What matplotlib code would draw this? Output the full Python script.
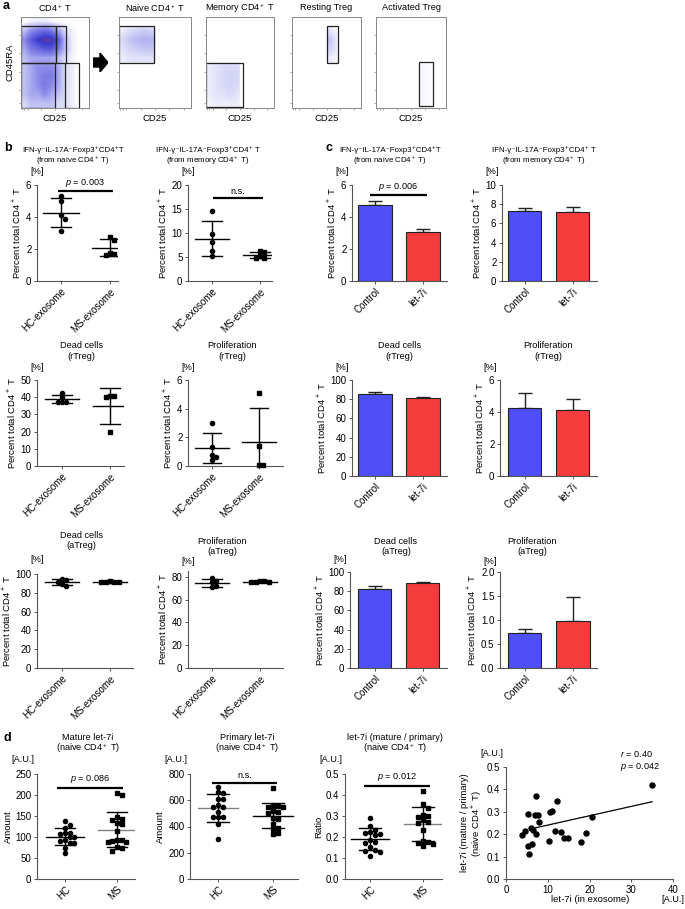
import numpy as np
import matplotlib
matplotlib.use('Agg')
import matplotlib.pyplot as plt
from matplotlib.colors import LinearSegmentedColormap
from matplotlib.patches import Rectangle, Polygon

plt.rcParams['font.family'] = ['Liberation Sans', 'DejaVu Sans']
plt.rcParams['mathtext.fontset'] = 'custom'
plt.rcParams['mathtext.rm'] = 'Liberation Sans'
plt.rcParams['mathtext.it'] = 'Liberation Sans:italic'
plt.rcParams['mathtext.bf'] = 'Liberation Sans:bold'
plt.rcParams['font.size'] = 6.5

# ---------------- data ----------------
# a: CD4+ T event density, rows bottom -> top, columns left -> right
cd4_density = np.array([
    [1, 2, 2, 2, 2, 1, 1, 0.5, 0, 0],
    [2, 3, 3, 4, 3, 2, 1, 0.5, 0, 0],
    [2, 3, 4, 5, 4, 3, 1, 0.5, 0, 0],
    [2, 3, 4, 5, 5, 3, 1, 0.5, 0, 0],
    [2, 3, 4, 4, 4, 3, 1, 0.5, 0, 0],
    [2, 3, 3, 3, 3, 2, 1, 0.3, 0, 0],
    [3, 5, 6, 7, 7, 5, 2, 0.5, 0, 0],
    [4, 7, 9, 10, 10, 7, 2, 0.5, 0, 0],
    [2, 4, 5, 6, 5, 3, 1, 0.3, 0, 0],
    [0, 0.3, 0.5, 0.5, 0.3, 0, 0, 0, 0, 0],
])
flow_titles = ['CD4$^+$ T', 'Naive CD4$^+$ T', 'Memory CD4$^+$ T', 'Resting Treg', 'Activated Treg']

# b: exosome co-culture, individual values
exo_labels = ['HC-exosome', 'MS-exosome']
b_naive_hc = [5.3, 5.0, 4.1, 3.85, 3.1]
b_naive_ms = [2.75, 2.55, 1.7, 1.65, 1.75]
b_memory_hc = [14.6, 9.8, 8.2, 6.3, 5.2]
b_memory_ms = [6.2, 6.1, 5.3, 4.8, 4.7]
b_dead_r_hc = [42.5, 40.0, 37.5, 37.3, 37.3]
b_dead_r_ms = [40.5, 40.0, 40.5, 19.5]
b_prolif_r_hc = [3.0, 1.35, 0.75, 0.6, 0.45]
b_prolif_r_ms = [5.1, 1.4, 0.05, 0.05]
b_dead_a_hc = [95, 93.5, 92, 89, 87]
b_dead_a_ms = [91, 91, 91.5, 92, 93]
b_prolif_a_hc = [79, 76, 75, 72, 71]
b_prolif_a_ms = [76.5, 76, 75.5, 75, 75.5]

# c: let-7i transfection, mean and SEM
mir_labels = ['Control', 'let-7i']
c_naive_mean, c_naive_sem = [4.78, 3.07], [0.24, 0.15]
c_memory_mean, c_memory_sem = [7.32, 7.14], [0.28, 0.59]
c_dead_r_mean, c_dead_r_sem = [85.0, 81.2], [2.4, 1.4]
c_prolif_r_mean, c_prolif_r_sem = [4.26, 4.15], [0.94, 0.68]
c_dead_a_mean, c_dead_a_sem = [82.5, 88.5], [2.4, 1.6]
c_prolif_a_mean, c_prolif_a_sem = [0.73, 0.98], [0.08, 0.50]

# d: let-7i in naive CD4+ T cells
pt_labels = ['HC', 'MS']
d_mature_hc = [138, 128.6, 120.6, 110.3, 107, 108.7, 99, 99, 92.9, 91.3, 86.5, 86.5, 74.6, 62.7]
d_mature_ms = [204, 200, 147, 144, 141, 133, 131, 114, 94, 92, 90, 88, 87, 76, 74, 67]
d_primary_hc = [703, 665, 653, 607, 607, 564, 551, 551, 513, 470, 470, 470, 417, 302]
d_primary_ms = [695, 560, 555, 550, 545, 520, 510, 500, 465, 455, 420, 390, 380, 350, 340]
d_ratio_hc = [0.289, 0.254, 0.233, 0.225, 0.22, 0.214, 0.21, 0.186, 0.178, 0.173, 0.151, 0.14, 0.135, 0.13, 0.111]
d_ratio_ms = [0.42, 0.356, 0.34, 0.305, 0.30, 0.297, 0.281, 0.273, 0.265, 0.233, 0.182, 0.178, 0.173, 0.165, 0.157]
exo_let7i = [35.0, 7.1, 12.3, 5.3, 7.0, 7.7, 10.5, 11.1, 7.9, 20.5, 3.9, 4.6, 6.0, 6.5,
             7.2, 11.7, 13.1, 13.8, 14.9, 10.2, 18.0, 19.1, 5.3, 6.2, 5.5]
cell_ratio = [0.42, 0.37, 0.35, 0.29, 0.285, 0.285, 0.298, 0.303, 0.256, 0.275, 0.195, 0.214, 0.226, 0.219,
              0.202, 0.216, 0.208, 0.182, 0.184, 0.171, 0.167, 0.205, 0.149, 0.158, 0.113]
fit_x = [6.5, 35.0]
fit_y = [0.226, 0.345]

# ---------------- helpers ----------------
W, H = 685, 909
fig = plt.figure(figsize=(W / 100, H / 100), dpi=100)
AXC = '#555555'
BLUE = '#4f4ff7'
RED = '#f53c3c'
TICK = 7
LAB = 6.8
TXT = 6.6


def fx(x):
    return x / W


def fy(y):
    return 1 - y / H


def make_axes(left, right, top, bottom):
    return fig.add_axes([left / W, 1 - bottom / H, (right - left) / W, (bottom - top) / H])


def style(ax):
    for s in ['top', 'right']:
        ax.spines[s].set_visible(False)
    for s in ['left', 'bottom']:
        ax.spines[s].set_color(AXC)
        ax.spines[s].set_linewidth(0.8)
    ax.tick_params(length=2.5, width=0.7, color=AXC, labelsize=TICK, pad=1.5)


def swarm(values, yrange, dx=0.09, thr=0.045):
    vals = np.asarray(values, float)
    offs = np.zeros(len(vals))
    placed = []
    for i in np.argsort(vals)[::-1]:
        v = vals[i]
        o = 0
        for k in [0, 1, -1, 2, -2, 3, -3]:
            o = k * dx
            if all(abs(o - po) >= dx * 0.9 or abs(v - pv) >= thr * yrange for po, pv in placed):
                break
        offs[i] = o
        placed.append((o, v))
    return offs


def titles(cx, y1, lines, size=TXT, gap=10.5):
    # one fig.text per line keeps the spacing even with superscripts
    for k, line in enumerate(lines):
        fig.text(fx(cx), fy(y1 + k * gap), line, ha='center', va='center', fontsize=size)


def unit(ax_left, y, text, ha='center'):
    x = ax_left if ha == 'center' else ax_left - 3
    fig.text(fx(x), fy(y), text, ha=ha, va='center', fontsize=TXT)


def sig_bar(ax, x0, x1, y, text, dy):
    ax.plot([x0, x1], [y, y], color='k', lw=1.6, solid_capstyle='butt', clip_on=False)
    ax.text((x0 + x1) / 2, y + dy, text, ha='center', va='bottom', fontsize=TXT)


def geometry(ax, left, right, cats):
    s = cats[1] - cats[0]
    ax.set_xlim((left - cats[0]) / s, 1 + (right - cats[1]) / s)


def dot_panel(left, right, cats, top, bottom, groups, labels, ylim, yticks, ylabel,
              mean_colors=('k', 'k'), yfmt=None):
    ax = make_axes(left, right, top, bottom)
    style(ax)
    geometry(ax, left, right, cats)
    ax.set_ylim(*ylim)
    yr = ylim[1] - ylim[0]
    for xi, (vals, mk, mc) in enumerate(zip(groups, ['o', 's'], mean_colors)):
        offs = swarm(vals, yr)
        ax.plot(xi + offs, vals, mk, color='k', ms=3.0 if mk == 'o' else 2.7, clip_on=False, zorder=3)
        m, sd = np.mean(vals), np.std(vals, ddof=1)
        ax.plot([xi - 0.36, xi + 0.36], [m, m], color=mc, lw=1.0, zorder=2)
        for yv in [m - sd, m + sd]:
            ax.plot([xi - 0.2, xi + 0.2], [yv, yv], color='k', lw=1.0, zorder=2)
        ax.plot([xi, xi], [m - sd, m + sd], color='k', lw=1.0, zorder=2)
    ax.set_xticks([0, 1])
    ax.set_xticklabels(labels, rotation=45, ha='right', rotation_mode='anchor')
    ax.set_yticks(yticks)
    if yfmt:
        ax.set_yticklabels([yfmt.format(t) for t in yticks])
    ax.set_ylabel(ylabel, fontsize=LAB, labelpad=2)
    return ax


def bar_panel(left, right, cats, top, bottom, means, sems, ylim, yticks, ylabel, yfmt=None):
    ax = make_axes(left, right, top, bottom)
    style(ax)
    geometry(ax, left, right, cats)
    ax.set_ylim(*ylim)
    ax.bar([0, 1], means, width=0.69, color=[BLUE, RED], edgecolor='#222222', linewidth=0.8, zorder=2)
    ax.errorbar([0, 1], means, yerr=[[0, 0], sems], fmt='none', ecolor='#222222',
                elinewidth=1.0, capsize=5, capthick=1.0, zorder=1)
    ax.set_xticks([0, 1])
    ax.set_xticklabels(mir_labels, rotation=45, ha='right', rotation_mode='anchor')
    ax.set_yticks(yticks)
    if yfmt:
        ax.set_yticklabels([yfmt.format(t) for t in yticks])
    ax.set_ylabel(ylabel, fontsize=LAB, labelpad=2)
    return ax


PCT = 'Percent total CD4$^+$ T'
IFN = 'IFN-γ⁻IL-17A⁻Foxp3⁺CD4⁺T'
IFN2 = 'IFN-γ⁻IL-17A⁻Foxp3⁺CD4⁺ T'
IFN_SIZE = 5.7

# ---------------- panel a: flow plots ----------------
cmap = LinearSegmentedColormap.from_list(
    'flow', [(0, 'white'), (0.08, '#dcdcf8'), (0.35, '#8a8aea'), (0.75, '#3a3ad0'), (1.0, '#a04848')])


def upsample(grid, n=140):
    rows, cols = grid.shape
    xs = (np.arange(cols) + 0.5) / cols
    ys = (np.arange(rows) + 0.5) / rows
    t = (np.arange(n) + 0.5) / n
    tmp = np.array([np.interp(t, xs, r) for r in grid])
    return np.array([np.interp(t, ys, tmp[:, j]) for j in range(n)]).T, t


dens, tt = upsample(cd4_density)
XX, YY = np.meshgrid(tt, tt)

flow_lr = [(21, 89), (119, 191), (206, 274), (292, 361), (376, 446)]
gates_all = [(0, 0.50, 0.51, 0.90), (0.51, 0.50, 0.66, 0.90), (0, 0, 0.50, 0.50), (0.65, 0.0, 0.85, 0.49)]
gates_sub = [(0, 0.50, 0.48, 0.90), (0, 0.01, 0.54, 0.49), (0.50, 0.50, 0.66, 0.90), (0.62, 0.02, 0.82, 0.50)]
src_gate = [gates_all[0], gates_all[2], gates_all[1], gates_all[3]]

for i, (l, r) in enumerate(flow_lr):
    ax = make_axes(l, r, 17, 108)
    if i == 0:
        img = dens * 0.85
        gates = gates_all
    else:
        g = src_gate[i - 1]
        mask = (XX >= g[0]) & (XX <= g[2]) & (YY >= g[1]) & (YY <= g[3])
        img = np.where(mask, dens * 0.22, 0)
        gates = [gates_sub[i - 1]]
    ax.imshow(img, extent=(0, 1, 0, 1), origin='lower', cmap=cmap, vmin=0, vmax=10,
              interpolation='bilinear', aspect='auto')
    for (x0, y0, x1, y1) in gates:
        ax.add_patch(Rectangle((x0, y0), x1 - x0, y1 - y0, fill=False, ec='#222222', lw=0.9))
    ax.set_xlim(0, 1)
    ax.set_ylim(0, 1)
    ax.set_xticks([0.02, 0.05, 0.1, 0.3, 0.5, 0.7, 0.9])
    ax.set_yticks([0.05, 0.2, 0.4, 0.6, 0.8])
    ax.tick_params(length=1.5, width=0.5, color='#888888', labelleft=False, labelbottom=False)
    for s in ax.spines.values():
        s.set_color('#888888')
        s.set_linewidth(0.7)
    ax.set_xlabel('CD25', fontsize=LAB, labelpad=3)
    fig.text(fx((l + r) / 2), fy(8), flow_titles[i], ha='center', va='center', fontsize=TXT)
    if i == 0:
        ax.set_ylabel('CD45RA', fontsize=LAB, labelpad=3)

arr = fig.add_axes([93 / W, 1 - 72 / H, 15 / W, 19 / H])
arr.add_patch(Polygon([(0, 5), (7, 5), (7, 0), (15, 9.5), (7, 19), (7, 14), (0, 14)], closed=True, color='k'))
arr.set_xlim(0, 15)
arr.set_ylim(0, 19)
arr.axis('off')

# ---------------- panel b ----------------
ax = dot_panel(37, 118, (61, 110), 185, 281, [b_naive_hc, b_naive_ms], exo_labels, (0, 6), [0, 2, 4, 6], PCT)
sig_bar(ax, -0.06, 1.06, 5.6, '$p$ = 0.003', 0.12)
titles(73, 150, [IFN, '(from naive CD4$^+$ T)'], IFN_SIZE)
unit(37, 172, '[%]')

ax = dot_panel(188, 272, (212, 260), 185, 281, [b_memory_hc, b_memory_ms], exo_labels, (0, 20), [0, 5, 10, 15, 20], PCT)
sig_bar(ax, 0.02, 1.06, 17.3, 'n.s.', 0.4)
titles(208, 150, [IFN2, '(from memory CD4$^+$ T)'], IFN_SIZE)
unit(188, 172, '[%]')

dot_panel(37, 124, (62, 110), 380, 466, [b_dead_r_hc, b_dead_r_ms], exo_labels, (0, 50), [0, 10, 20, 30, 40, 50], PCT)
titles(81, 346, ['Dead cells', '(rTreg)'])
unit(37, 367, '[%]')

dot_panel(188, 283, (212, 259), 380, 466, [b_prolif_r_hc, b_prolif_r_ms], exo_labels, (0, 6), [0, 2, 4, 6], PCT)
titles(232, 346, ['Proliferation', '(rTreg)'])
unit(188, 367, '[%]')

dot_panel(37, 133, (62, 110), 574, 668, [b_dead_a_hc, b_dead_a_ms], exo_labels, (0, 100), [0, 20, 40, 60, 80, 100], PCT)
titles(81, 535, ['Dead cells', '(aTreg)'])
unit(37, 560, '[%]')

dot_panel(188, 283, (212, 260), 571, 668, [b_prolif_a_hc, b_prolif_a_ms], exo_labels, (0, 85), [0, 20, 40, 60, 80], PCT)
titles(222, 541, ['Proliferation', '(aTreg)'])
unit(188, 561, '[%]')

# ---------------- panel c ----------------
ax = bar_panel(352, 447, (375, 423), 185, 281, c_naive_mean, c_naive_sem, (0, 6), [0, 2, 4, 6], PCT)
sig_bar(ax, -0.1, 1.08, 5.35, '$p$ = 0.006', 0.12)
titles(390, 150, [IFN, '(from naive CD4$^+$ T)'], IFN_SIZE)
unit(352, 172, '[%]', 'right')

bar_panel(502, 597, (524.5, 572.5), 185, 281, c_memory_mean, c_memory_sem, (0, 10), [0, 2, 4, 6, 8, 10], PCT)
titles(544, 150, [IFN2, '(from memory CD4$^+$ T)'], IFN_SIZE)
unit(502, 172, '[%]', 'right')

bar_panel(352, 447, (375, 423), 380, 476, c_dead_r_mean, c_dead_r_sem, (0, 100), [0, 20, 40, 60, 80, 100], PCT)
titles(399, 346, ['Dead cells', '(rTreg)'])
unit(352, 367, '[%]', 'right')

bar_panel(500, 597, (524.5, 572.5), 380, 476, c_prolif_r_mean, c_prolif_r_sem, (0, 6), [0, 2, 4, 6], PCT)
titles(548, 346, ['Proliferation', '(rTreg)'])
unit(500, 367, '[%]', 'right')

bar_panel(350, 447, (374.5, 422.5), 572, 668, c_dead_a_mean, c_dead_a_sem, (0, 100), [0, 20, 40, 60, 80, 100], PCT)
titles(396, 541, ['Dead cells', '(aTreg)'])
unit(350, 560, '[%]', 'right')

bar_panel(500, 597, (524.5, 573), 572, 668, c_prolif_a_mean, c_prolif_a_sem, (0, 2), [0, 0.5, 1.0, 1.5, 2.0], PCT,
          yfmt='{:.1f}')
titles(532, 541, ['Proliferation', '(aTreg)'])
unit(500, 561, '[%]', 'right')

# ---------------- panel d ----------------
ax = dot_panel(37, 135, (65, 117), 774, 879, [d_mature_hc, d_mature_ms], pt_labels, (0, 250),
               [0, 50, 100, 150, 200, 250], 'Amount', mean_colors=('k', '#808080'))
sig_bar(ax, -0.15, 1.12, 217, '$p$ = 0.086', 6)
titles(88, 738, ['Mature let-7i', '(naive CD4$^+$ T)'])
unit(37, 760, '[A.U.]', 'right')

ax = dot_panel(190, 298, (218, 273), 774, 879, [d_primary_hc, d_primary_ms], pt_labels, (0, 800),
               [0, 200, 400, 600, 800], 'Amount', mean_colors=('#808080', 'k'))
sig_bar(ax, -0.11, 1.07, 733, 'n.s.', 18)
titles(247, 738, ['Primary let-7i', '(naive CD4$^+$ T)'])
unit(190, 760, '[A.U.]', 'right')

ax = dot_panel(345, 442, (370, 423), 774, 879, [d_ratio_hc, d_ratio_ms], pt_labels, (0, 0.5),
               [0, 0.1, 0.2, 0.3, 0.4, 0.5], 'Ratio', mean_colors=('k', '#808080'), yfmt='{:.1f}')
sig_bar(ax, -0.11, 1.13, 0.444, '$p$ = 0.012', 0.012)
titles(395, 738, ['let-7i (mature / primary)', '(naive CD4$^+$ T)'])
unit(345, 760, '[A.U.]', 'right')

ax = make_axes(506, 673, 767, 879)
style(ax)
ax.plot(exo_let7i, cell_ratio, 'o', color='k', ms=3.6, clip_on=False, zorder=3)
ax.plot(fit_x, fit_y, color='k', lw=0.9)
ax.set_xlim(0, 40)
ax.set_ylim(0, 0.5)
ax.set_xticks([0, 10, 20, 30, 40])
ax.set_yticks([0, 0.1, 0.2, 0.3, 0.4, 0.5])
ax.set_yticklabels(['{:.1f}'.format(t) for t in [0, 0.1, 0.2, 0.3, 0.4, 0.5]])
ax.set_ylabel('let-7i (mature / primary)\n(naive CD4$^+$ T)', fontsize=LAB, labelpad=2, linespacing=1.1)
ax.text(27.3, 0.56, '$r$ = 0.40', ha='left', va='center', fontsize=TXT)
ax.text(27.3, 0.50, '$p$ = 0.042', ha='left', va='center', fontsize=TXT)
fig.text(fx(590), fy(899), 'let-7i (in exosome)', ha='center', va='center', fontsize=LAB)
fig.text(fx(684), fy(899), '[A.U.]', ha='right', va='center', fontsize=TXT)
fig.text(fx(503), fy(753), '[A.U.]', ha='right', va='center', fontsize=TXT)

# panel letters
for letter, (x, y) in zip('abcd', [(3, 6), (4, 148), (325, 148), (3, 738)]):
    fig.text(fx(x), fy(y), letter, ha='left', va='center', fontsize=9, fontweight='bold')

fig.savefig('out.png', dpi=100)
